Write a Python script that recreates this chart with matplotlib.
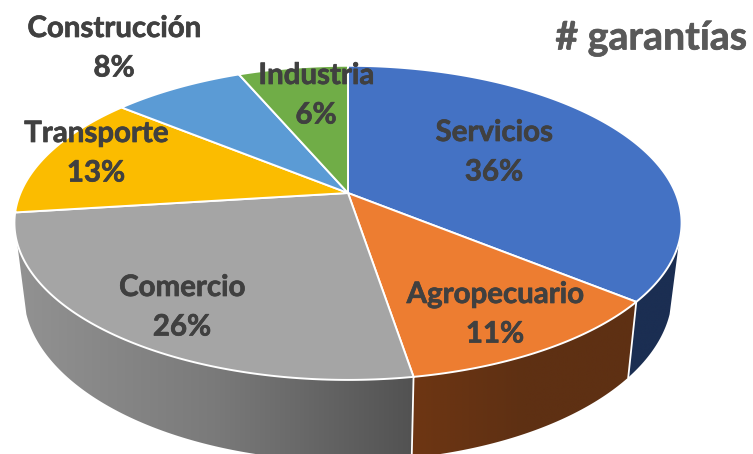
"""3D perspective pie chart of guarantees by sector."""

import matplotlib.pyplot as plt
import matplotlib.patheffects as pe
import numpy as np
from matplotlib.patches import Polygon

categories = ["Servicios", "Agropecuario", "Comercio", "Transporte", "Construcción", "Industria"]
shares = [35.9, 11.5, 25.6, 12.9, 7.7, 6.4]
share_labels = ["36%", "11%", "26%", "13%", "8%", "6%"]
top_colors = ["#4472C4", "#ED7D31", "#A5A5A5", "#FBBC00", "#5B9BD5", "#70AD47"]
title = "# garantías"

# label centres in pixels (name line, percent line follows)
label_x = [494, 495, 182, 96, 114, 316]
label_y = [133, 295, 288, 134, 29, 76]

W, H = 753, 454
CX, CY = 348, 193  # apex of the pie
A, B, K = 327.5, 151.4, 0.19  # perspective of the top disc
ELL_CY = 222
TEXT = "#404040"


def rim(theta):
    """Top disc rim for angle measured clockwise from 12 o'clock."""
    u, v = np.sin(theta), np.cos(theta)
    w = 1 + K * v
    return CX + A * u / w, CY - B * v / w


def lower_rim(theta):
    x, y = rim(theta)
    return CX + 0.972 * (x - CX), ELL_CY + 70 + 1.07 * (y - ELL_CY)


def wall(ax, t0, t1, colors):
    """Side wall between two angles, filled with a left to right gradient."""
    t = np.linspace(t0, t1, 120)
    xt, yt = rim(t)
    xb, yb = lower_rim(t)
    pts = np.column_stack([np.r_[xt, xb[::-1]], np.r_[yt, yb[::-1]]])
    poly = Polygon(pts, closed=True, facecolor="none", edgecolor="none", zorder=2)
    ax.add_patch(poly)
    x0, x1 = pts[:, 0].min(), pts[:, 0].max()
    y0, y1 = pts[:, 1].min(), pts[:, 1].max()
    rgb = np.array([plt.matplotlib.colors.to_rgb(c) for c in colors])
    pos = np.linspace(0, 1, len(colors))
    s = np.linspace(0, 1, 256)
    grad = np.stack([np.interp(s, pos, rgb[:, i]) for i in range(3)], axis=-1)[None, :, :]
    im = ax.imshow(grad, extent=(x0, x1, y1, y0), aspect="auto", zorder=2, interpolation="bilinear")
    im.set_clip_path(poly)


fig = plt.figure(figsize=(W / 100, H / 100), dpi=100)
ax = fig.add_axes([0, 0, 1, 1])

bounds = np.radians(np.r_[0, np.cumsum(shares)] * 3.6)

# visible walls, front half only
side_start, side_end = np.radians(108), np.radians(252)
wall(ax, side_start, bounds[1], ["#1B2E52", "#1B2E52"])
wall(ax, bounds[1], bounds[2], ["#6E3613", "#5E3013", "#5E3013"])
wall(ax, bounds[2], side_end, ["#929292", "#7A7A7A", "#525252"])

for b in bounds[1:3]:
    xa, ya = rim(b)
    xb, yb = lower_rim(b)
    ax.plot([xa, xb], [ya, yb], color="white", lw=1.3, zorder=3)

# top disc
for i, color in enumerate(top_colors):
    t = np.linspace(bounds[i], bounds[i + 1], 150)
    x, y = rim(t)
    pts = np.column_stack([np.r_[CX, x], np.r_[CY, y]])
    ax.add_patch(Polygon(pts, closed=True, facecolor=color, edgecolor="white", lw=1.4, zorder=4))

plt.rcParams["font.family"] = ["Lato", "DejaVu Sans"]
bold = [pe.withStroke(linewidth=0.5, foreground=TEXT)]
for name, pct, x, y in zip(categories, share_labels, label_x, label_y):
    ax.text(x, y, name, ha="center", va="center", fontsize=21.2, fontweight="bold", color=TEXT, zorder=5, path_effects=bold)
    ax.text(x, y + 39.5, pct, ha="center", va="center", fontsize=21.2, fontweight="bold", color=TEXT, zorder=5, path_effects=bold)

ax.text(651, 38, title, ha="center", va="center", fontsize=28.3, fontweight="bold", color="#595959", zorder=5,
        path_effects=[pe.withStroke(linewidth=0.5, foreground="#595959")])

ax.set_xlim(0, W)
ax.set_ylim(H, 0)
ax.axis("off")
fig.savefig("out.png", dpi=100)
